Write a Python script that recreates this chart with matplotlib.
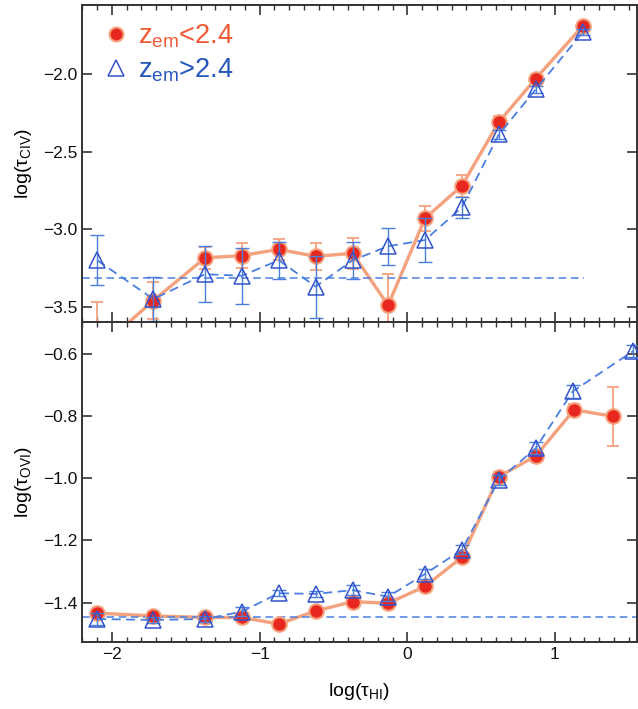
import matplotlib
matplotlib.use("Agg")
import matplotlib.pyplot as plt
from matplotlib.ticker import MultipleLocator
from matplotlib.lines import Line2D

# log(tau_HI) bin centres and measured values
x_civ = [-2.1, -1.72, -1.37, -1.12, -0.87, -0.62, -0.37, -0.13, 0.12, 0.37, 0.62, 0.87, 1.19]
civ_lo = [-3.78, -3.46, -3.185, -3.17, -3.13, -3.175, -3.155, -3.49, -2.93, -2.72, -2.31, -2.03, -1.69]
civ_lo_err = [0.31, 0.12, 0.07, 0.08, 0.07, 0.085, 0.10, 0.20, 0.08, 0.07, 0.04, 0.03, 0.02]
civ_hi = [-3.20, -3.45, -3.29, -3.30, -3.20, -3.37, -3.20, -3.11, -3.07, -2.86, -2.39, -2.10, -1.73]
civ_hi_err = [0.16, 0.14, 0.18, 0.18, 0.12, 0.20, 0.12, 0.12, 0.14, 0.07, 0.03, 0.02, 0.02]

x_ovi_lo = [-2.1, -1.72, -1.37, -1.12, -0.87, -0.62, -0.37, -0.13, 0.12, 0.37, 0.62, 0.87, 1.13, 1.39]
ovi_lo = [-1.434, -1.443, -1.448, -1.448, -1.469, -1.427, -1.397, -1.402, -1.348, -1.254,
          -0.994, -0.928, -0.779, -0.80]
ovi_lo_err = [0.01, 0.01, 0.01, 0.01, 0.01, 0.01, 0.01, 0.01, 0.01, 0.012, 0.015, 0.02, 0.02, 0.095]
x_ovi_hi = [-2.1, -1.72, -1.37, -1.12, -0.87, -0.62, -0.37, -0.13, 0.12, 0.37, 0.62, 0.87, 1.12, 1.53]
ovi_hi = [-1.453, -1.456, -1.453, -1.429, -1.37, -1.372, -1.36, -1.381, -1.308, -1.23,
          -1.005, -0.903, -0.72, -0.59]
ovi_hi_err = [0.02, 0.01, 0.01, 0.015, 0.01, 0.01, 0.015, 0.015, 0.015, 0.015, 0.015, 0.02, 0.02, 0.02]

# noise levels (dashed lines)
civ_noise = -3.314
civ_noise_end = 1.2
ovi_noise = -1.445

labels = [r"$\mathregular{z_{em}}$<2.4", r"$\mathregular{z_{em}}$>2.4"]

RED = "#e8281e"
SALMON = "#f4a27e"
BLUE = "#3353cc"
BLUE_LINE = "#4a7fe0"
AXC = "#333333"

plt.rcParams["font.family"] = ["Liberation Sans", "DejaVu Sans"]
plt.rcParams["mathtext.fontset"] = "custom"
plt.rcParams["mathtext.rm"] = "Liberation Sans"
plt.rcParams["mathtext.it"] = "Liberation Sans:italic"

fig = plt.figure(figsize=(6.38, 7.09), dpi=100)
ax1 = fig.add_axes([0.1285, 0.546, 0.8695, 0.447])
ax2 = fig.add_axes([0.1285, 0.0945, 0.8695, 0.4515], sharex=ax1)

xlim = (-2.203, 1.554)


def draw(ax, xr, yr, er, xb, yb, eb):
    ax.errorbar(xr, yr, yerr=er, fmt="none", ecolor=SALMON, elinewidth=1.3,
                capsize=4, capthick=1.3, zorder=2)
    ax.plot(xr, yr, "-", color=SALMON, lw=2.4, zorder=2)
    ax.plot(xr, yr, "o", color=RED, ms=10.5, mec=SALMON, mew=1.5, zorder=3)
    ax.errorbar(xb, yb, yerr=eb, fmt="none", ecolor=BLUE_LINE, elinewidth=1.0,
                capsize=5, capthick=1.0, zorder=4)
    ax.plot(xb, yb, "--", color=BLUE_LINE, lw=1.3, dashes=(5, 3), zorder=4)
    ax.plot(xb, yb, "^", mfc="none", mec=BLUE, ms=11, mew=1.1, zorder=5)


draw(ax1, x_civ, civ_lo, civ_lo_err, x_civ, civ_hi, civ_hi_err)
ax1.hlines(civ_noise, xlim[0], civ_noise_end, colors=BLUE_LINE, linestyles=(0, (5, 3)), lw=1.1)
draw(ax2, x_ovi_lo, ovi_lo, ovi_lo_err, x_ovi_hi, ovi_hi, ovi_hi_err)
ax2.hlines(ovi_noise, xlim[0], xlim[1], colors=BLUE_LINE, linestyles=(0, (5, 3)), lw=1.1)

ax1.set_xlim(*xlim)
ax1.set_ylim(-3.597, -1.556)
ax2.set_ylim(-1.527, -0.496)

ax1.yaxis.set_major_locator(MultipleLocator(0.5))
ax2.yaxis.set_major_locator(MultipleLocator(0.2))
ax2.xaxis.set_major_locator(MultipleLocator(1))
ax2.xaxis.set_minor_locator(MultipleLocator(0.1))

for ax in (ax1, ax2):
    ax.tick_params(direction="in", which="both", top=True, right=True,
                   color=AXC, labelsize=12.5, labelcolor="#111111")
    ax.tick_params(which="major", length=7, width=1.2)
    ax.tick_params(which="minor", length=3.5, width=1.0)
    for s in ax.spines.values():
        s.set_color(AXC)
        s.set_linewidth(1.4)

ax1.tick_params(labelbottom=False)

ax1.set_ylabel(r"log($\mathregular{\tau_{CIV}}$)", fontsize=14, labelpad=6)
ax2.set_ylabel(r"log($\mathregular{\tau_{OVI}}$)", fontsize=14, labelpad=6)
ax2.set_xlabel(r"log($\mathregular{\tau_{HI}}$)", fontsize=14, labelpad=14)

handles = [Line2D([], [], marker="o", ls="none", color=RED, ms=10, mec=SALMON, mew=1.5),
           Line2D([], [], marker="^", ls="none", mfc="none", mec=BLUE, ms=11, mew=1.1)]
ax1.legend(handles, labels, loc="upper left", frameon=False, fontsize=19.5,
           labelcolor=["#f05a36", "#2658bb"], handletextpad=0.2,
           borderaxespad=0.25, handlelength=1.2, labelspacing=0.25)

fig.savefig("out.png", dpi=100)
